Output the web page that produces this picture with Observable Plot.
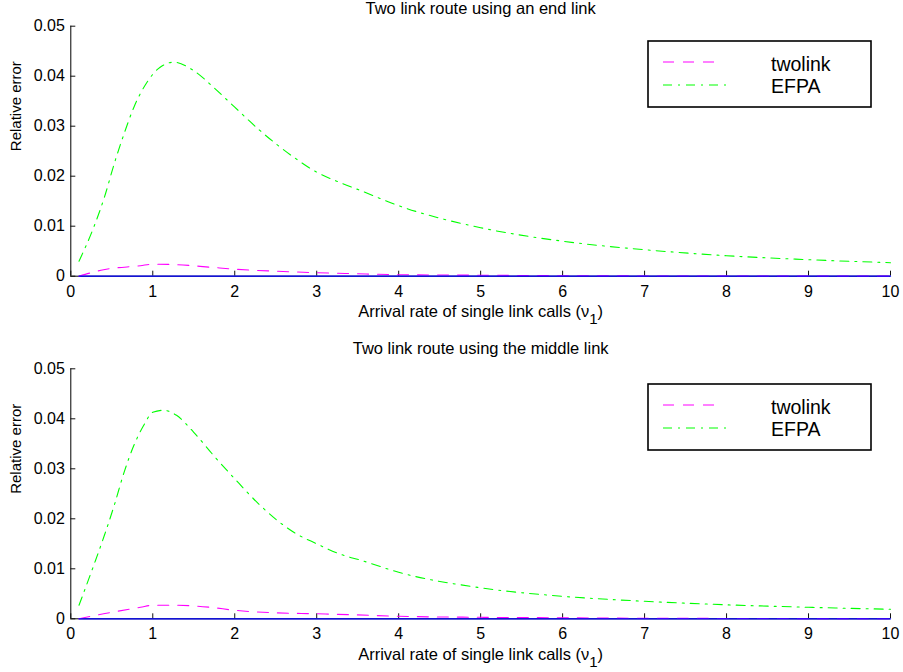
<!DOCTYPE html>
<html><head><meta charset="utf-8">
<script src="https://cdn.jsdelivr.net/npm/d3@7"></script>
<script src="https://cdn.jsdelivr.net/npm/@observablehq/plot@0.6"></script>
<style>
body{margin:0;background:#fff;}
#wrap{position:relative;width:903px;height:672px;overflow:hidden;background:#fff;}
.panel{position:absolute;left:0;width:903px;height:336px;}
.legend{position:absolute;}
</style></head><body><div id="wrap"></div>
<script>
// ---------- data ----------
const xTicks = [0, 1, 2, 3, 4, 5, 6, 7, 8, 9, 10];
const yTicks = [0, 0.01, 0.02, 0.03, 0.04, 0.05];
const yTickLabels = ["0", "0.01", "0.02", "0.03", "0.04", "0.05"];
const titles = ["Two link route using an end link", "Two link route using the middle link"];
const yLabel = "Relative error";
const xLabel = "Arrival rate of single link calls (ν1)";
const seriesNames = ["twolink", "EFPA"];

// panel 1: end link
const endTwolinkX = [0.1, 0.4, 0.85, 1.0, 1.3, 1.7, 2.0, 2.5, 3.0, 3.45, 4, 5, 6, 7, 8, 9, 10];
const endTwolinkY = [0, 0.0013, 0.0021, 0.0024, 0.0023, 0.0018, 0.0014, 0.0010, 0.0007, 0.0005, 0.0003, 0.0002, 0.0001, 0.00005, 0.00003, 0.00002, 0.00001];
const endEfpaX = [0.1, 0.28, 0.41, 0.53, 0.65, 0.77, 0.93, 1.09, 1.26, 1.5, 1.74, 2.0, 2.31, 2.72, 3.0, 3.29, 3.54, 4, 5, 6, 7, 8, 9, 10];
const endEfpaY = [0.003, 0.0098, 0.0158, 0.0225, 0.0285, 0.0338, 0.0388, 0.0418, 0.0428, 0.0411, 0.0378, 0.0338, 0.0291, 0.0238, 0.0208, 0.0187, 0.0171, 0.0141, 0.0097, 0.0070, 0.0053, 0.0041, 0.0033, 0.0027];

// panel 2: middle link
const midTwolinkX = [0.1, 0.4, 0.85, 1.0, 1.3, 1.7, 2.0, 2.5, 3.0, 3.45, 4, 5, 6, 7, 8, 9, 10];
const midTwolinkY = [0, 0.0010, 0.0023, 0.0027, 0.0027, 0.0023, 0.0017, 0.0012, 0.0010, 0.0008, 0.0005, 0.0003, 0.0002, 0.0001, 0.00007, 0.00004, 0.00002];
const midEfpaX = [0.1, 0.28, 0.41, 0.53, 0.65, 0.77, 0.89, 1.0, 1.13, 1.29, 1.5, 1.74, 2.0, 2.31, 2.72, 3.0, 3.29, 3.54, 4, 5, 6, 7, 8, 9, 10];
const midEfpaY = [0.0027, 0.0107, 0.0167, 0.0227, 0.0293, 0.0347, 0.0387, 0.0413, 0.0417, 0.0407, 0.0373, 0.0327, 0.028, 0.0227, 0.0173, 0.015, 0.0129, 0.0117, 0.0093, 0.0062, 0.0045, 0.0035, 0.0028, 0.0023, 0.0019];

// zero reference line (third plotted series)
const baseX = [0.1, 10];
const baseY = [0, 0];

// ---------- build ----------
const rows = (xs, ys) => xs.map((x, i) => ({x, y: ys[i]}));
const FONT = "'Liberation Sans', Arial, Helvetica, sans-serif";
const W = 903, H = 336;

function panel(cfg) {
  const fw = W - cfg.ml - cfg.mr, fh = H - cfg.mt - cfg.mb;
  const svg = Plot.plot({
    width: W, height: H,
    marginLeft: cfg.ml, marginRight: cfg.mr, marginTop: cfg.mt, marginBottom: cfg.mb,
    style: {fontFamily: FONT, fontSize: "16px", color: "#000", background: "white", overflow: "visible"},
    x: {domain: [0, 10]},
    y: {domain: [0, 0.05]},
    marks: [
      Plot.axisX(xTicks, {tickSize: 0, tickPadding: 9, fontSize: 16, tickFormat: d => String(d), label: null}),
      Plot.axisY(yTicks, {tickSize: 0, tickPadding: 6, fontSize: 16, tickFormat: d => yTickLabels[yTicks.indexOf(d)], label: null}),
      Plot.ruleX([0], {stroke: "#000", strokeWidth: 1}),
      Plot.ruleY([0], {stroke: "#000", strokeWidth: 1}),
      Plot.tickX(xTicks, {x: d => d, insetTop: fh - 5, stroke: "#111"}),
      Plot.tickY(yTicks, {y: d => d, insetRight: fw - 5, stroke: "#111"}),
      Plot.line(rows(cfg.tlX, cfg.tlY), {x: "x", y: "y", stroke: "#ff00ff", strokeWidth: 1.1, strokeDasharray: "11,9", curve: "monotone-x"}),
      Plot.line(rows(cfg.efX, cfg.efY), {x: "x", y: "y", stroke: "#00ff00", strokeWidth: 1.1, strokeDasharray: "9,6,2,6", curve: "monotone-x"}),
      Plot.line(rows(baseX, baseY), {x: "x", y: "y", stroke: "#0000ff", strokeWidth: 1.3}),
      Plot.text([cfg.title], {text: d => d, frameAnchor: "top", dy: cfg.titleDy, lineAnchor: "bottom", fontSize: 16.5, fill: "#000"}),
      Plot.text([xLabel], {text: d => d, frameAnchor: "bottom", dy: 41, lineAnchor: "bottom", fontSize: 16.5, fill: "#000"}),
      Plot.text([yLabel], {text: d => d, frameAnchor: "left", dx: -55, rotate: -90, fontSize: 15, fill: "#000"})
    ]
  });
  // subscript for ν1
  svg.querySelectorAll("text").forEach(t => {
    if (t.textContent === xLabel) {
      t.textContent = "";
      const ns = "http://www.w3.org/2000/svg";
      const a = document.createElementNS(ns, "tspan"); a.textContent = xLabel.slice(0, -2);
      const b = document.createElementNS(ns, "tspan"); b.textContent = "1"; b.setAttribute("dy", "7"); b.setAttribute("font-size", "15");
      const c = document.createElementNS(ns, "tspan"); c.textContent = ")"; c.setAttribute("dy", "-7");
      t.append(a, b, c);
    }
  });
  return svg;
}

function legend() {
  const svg = d3.create("svg").attr("width", 226).attr("height", 69).style("font-family", FONT);
  svg.append("rect").attr("x", 1).attr("y", 1).attr("width", 223).attr("height", 66)
    .attr("fill", "white").attr("stroke", "#000").attr("stroke-width", 1.6);
  const styles = [
    {stroke: "#ff00ff", dash: "11,9", x2: 72, y: 22, ty: 30.5},
    {stroke: "#00ff00", dash: "9,6,2,6", x2: 83, y: 45, ty: 52.5}
  ];
  seriesNames.forEach((name, i) => {
    const s = styles[i];
    svg.append("line").attr("x1", 16).attr("x2", s.x2).attr("y1", s.y).attr("y2", s.y)
      .attr("stroke", s.stroke).attr("stroke-width", 1.2).attr("stroke-dasharray", s.dash);
    svg.append("text").attr("x", 124).attr("y", s.ty).attr("font-size", 19.5).attr("fill", "#000").text(name);
  });
  return svg.node();
}

const wrap = document.getElementById("wrap");
const cfgs = [
  {top: 0, ml: 70.3, mr: 13, mt: 25.7, mb: 60.3, titleDy: -12, tlX: endTwolinkX, tlY: endTwolinkY, efX: endEfpaX, efY: endEfpaY, title: titles[0], legTop: 40},
  {top: 336, ml: 70.3, mr: 13, mt: 32.3, mb: 53.7, titleDy: -15.3, tlX: midTwolinkX, tlY: midTwolinkY, efX: midEfpaX, efY: midEfpaY, title: titles[1], legTop: 383}
];
cfgs.forEach(cfg => {
  const div = document.createElement("div");
  div.className = "panel"; div.style.top = cfg.top + "px";
  div.appendChild(panel(cfg));
  wrap.appendChild(div);
  const lg = document.createElement("div");
  lg.className = "legend"; lg.style.left = "647px"; lg.style.top = cfg.legTop + "px";
  lg.appendChild(legend());
  wrap.appendChild(lg);
});
</script></body></html>
